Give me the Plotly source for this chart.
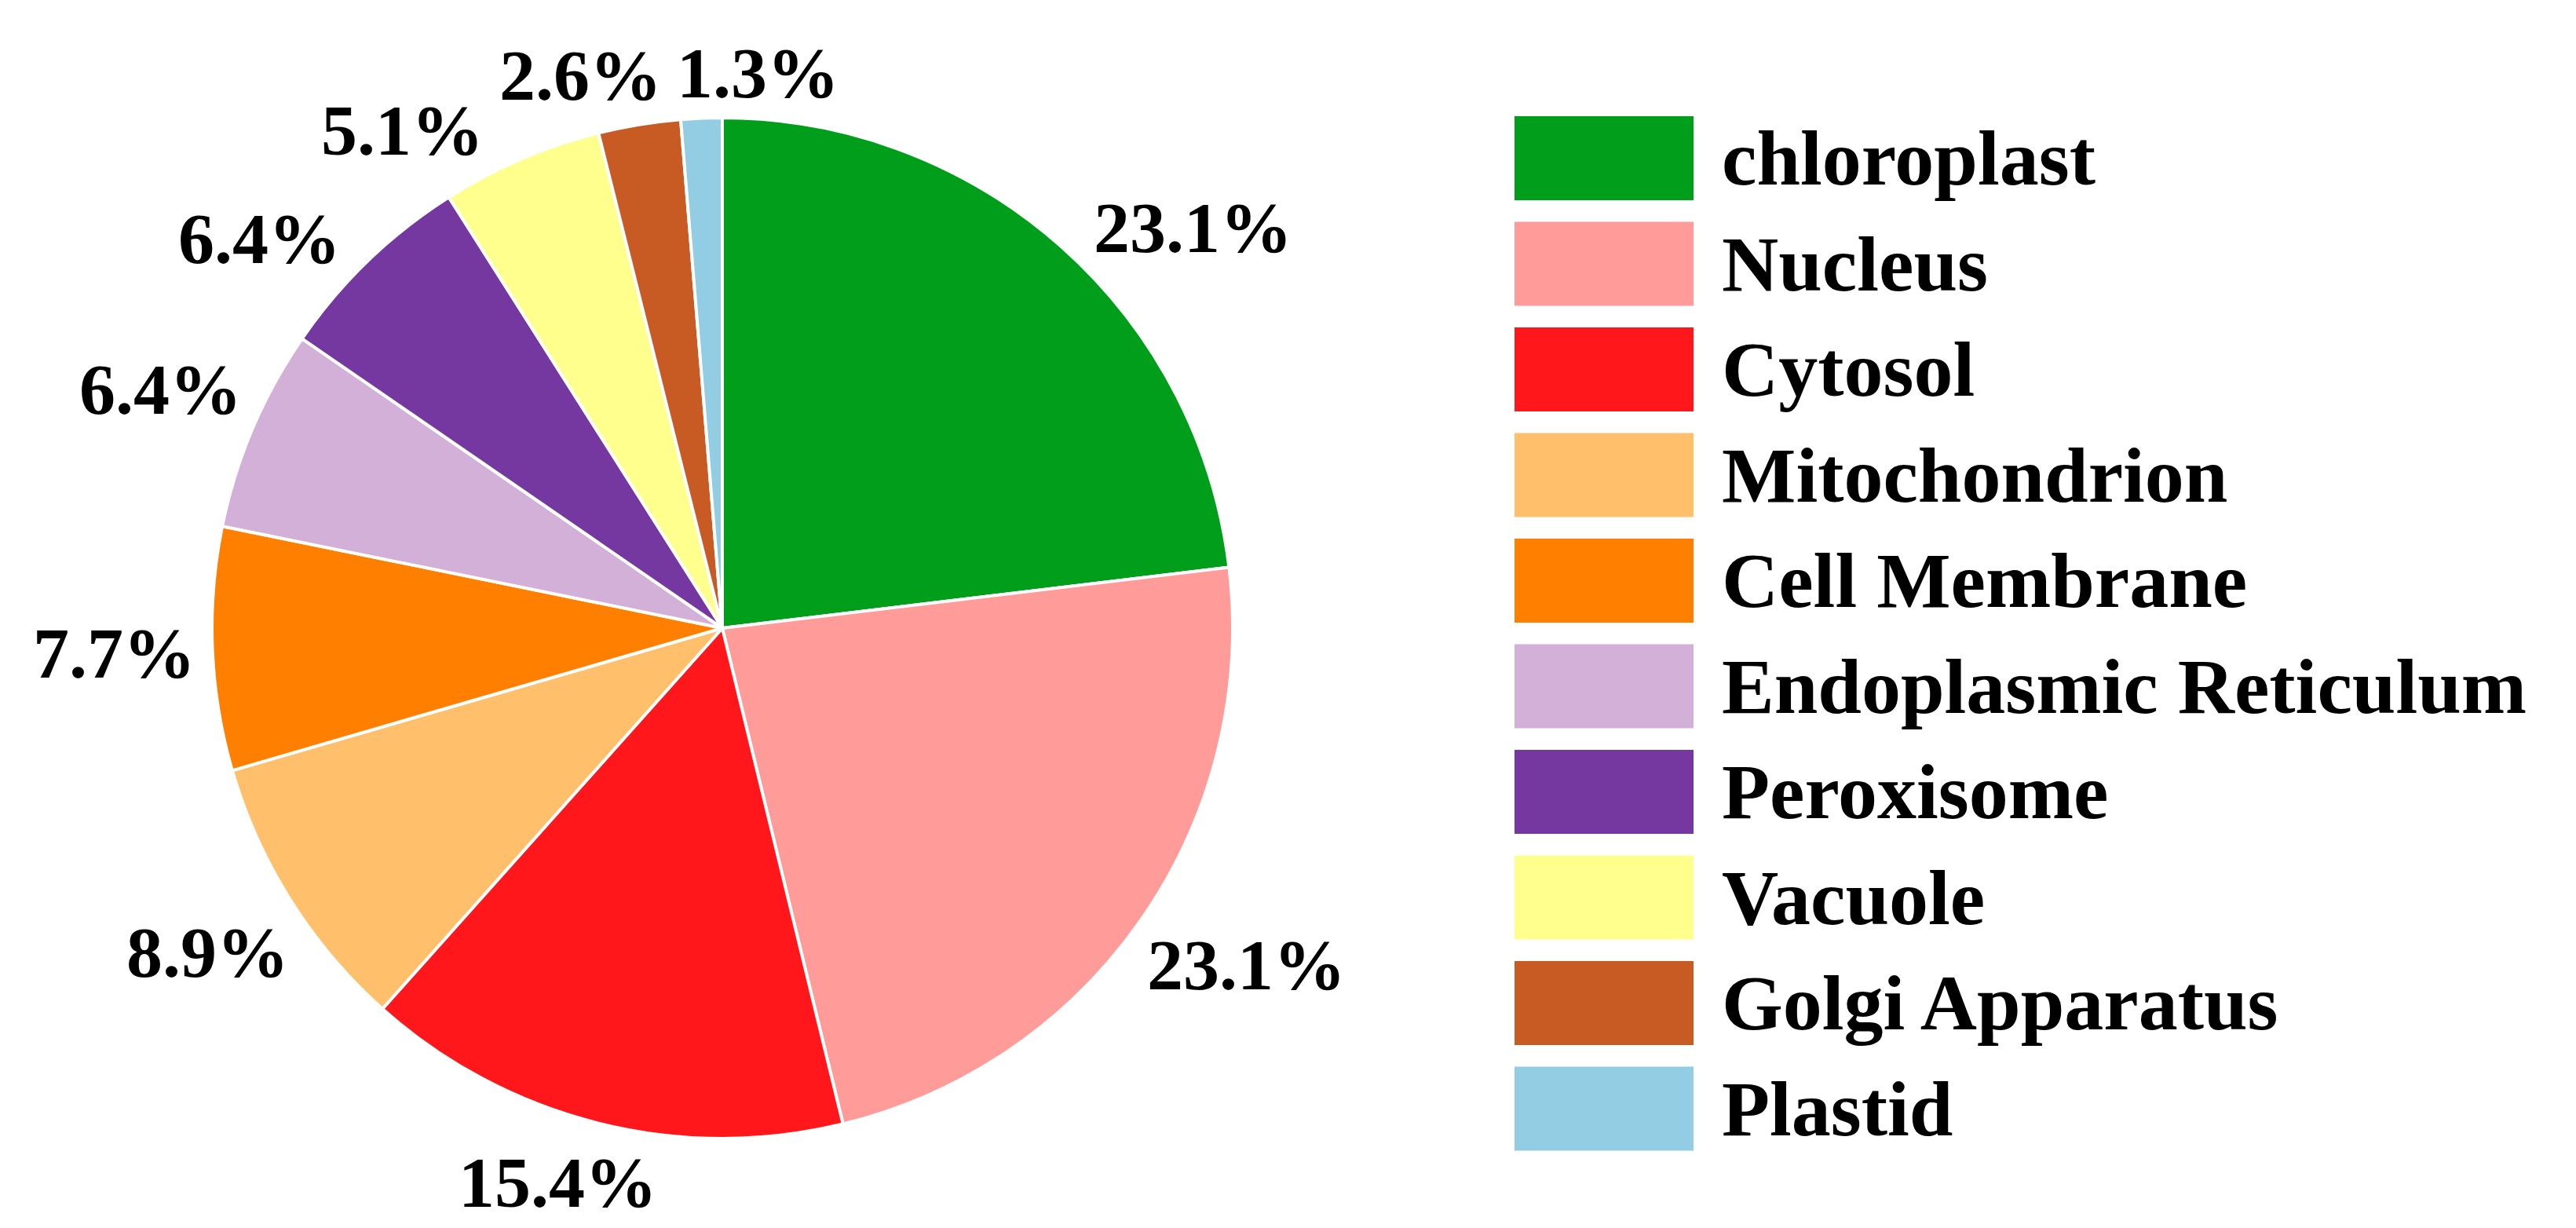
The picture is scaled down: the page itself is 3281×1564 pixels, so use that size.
import math
import plotly.graph_objects as go

# data
labels = ["chloroplast", "Nucleus", "Cytosol", "Mitochondrion", "Cell Membrane",
          "Endoplasmic Reticulum", "Peroxisome", "Vacuole", "Golgi Apparatus", "Plastid"]
percents = [23.1, 23.1, 15.4, 8.9, 7.7, 6.4, 6.4, 5.1, 2.6, 1.3]
colors = ["#009E1A", "#FF9B98", "#FF171C", "#FFBF6B", "#FF8000",
          "#D2B0D8", "#7538A0", "#FFFF8E", "#C85A24", "#92CDE3"]

W, H = 3281, 1564
FONT = "Liberation Serif"

# pie placement (pixels)
CX, CY, R = 912, 792, 650
LABEL_SIZE = 92
GAP = 20
# small angular nudges (degrees) so crowded labels sit like in the original
label_shift = {"chloroplast": 8, "Nucleus": -2, "Cytosol": 2.5, "Peroxisome": -6,
               "Vacuole": -9.5, "Golgi Apparatus": -5, "Plastid": 6}

fig = go.Figure()

fig.add_trace(
    go.Pie(
        labels=labels,
        values=percents,
        textinfo="none",
        marker=dict(colors=colors, line=dict(color="white", width=4)),
        sort=False,
        direction="clockwise",
        rotation=0,
        showlegend=False,
        hoverinfo="label+percent",
        domain=dict(x=[(CX - R) / W, (CX + R) / W],
                    y=[1 - (CY + R) / H, 1 - (CY - R) / H]),
    )
)

# percentage labels just outside each slice
total = sum(percents)
cum = 0
for lab, p in zip(labels, percents):
    mid = (cum + p / 2) / total * 360 + label_shift.get(lab, 0)
    cum += p
    th = math.radians(mid)
    s, c = math.sin(th), math.cos(th)
    txt = f"{p}%"
    w = LABEL_SIZE * (0.5 * sum(ch.isdigit() for ch in txt) + 0.25 + 1.0)
    h = LABEL_SIZE * 0.7
    d = R + GAP + abs(s) * w / 2 + abs(c) * h / 2
    fig.add_annotation(
        xref="paper", yref="paper",
        x=(CX + d * s) / W, y=1 - (CY - d * c) / H,
        text=f"<b>{txt}</b>", showarrow=False,
        xanchor="center", yanchor="middle",
        font=dict(family=FONT, size=LABEL_SIZE, color="black"),
    )

# hand-made legend: big swatches and bold text
top0, pitch, sw_h = 140, 134.5, 107
x0, x1, tx = 1921 / W, 2149 / W, 2183 / W
for i, (lab, col) in enumerate(zip(labels, colors)):
    t = top0 + pitch * i
    fig.add_shape(
        type="rect", xref="paper", yref="paper",
        x0=x0, x1=x1, y0=1 - (t + sw_h) / H, y1=1 - t / H,
        fillcolor=col, line=dict(width=0),
    )
    fig.add_annotation(
        xref="paper", yref="paper", x=tx, y=1 - (t + sw_h / 2) / H,
        text=f"<b>{lab}</b>", showarrow=False,
        xanchor="left", yanchor="middle",
        font=dict(family=FONT, size=100, color="black"),
    )

fig.update_layout(
    width=W, height=H,
    margin=dict(l=0, r=0, t=0, b=0),
    paper_bgcolor="white",
    plot_bgcolor="white",
)

fig.write_html("out.html")
